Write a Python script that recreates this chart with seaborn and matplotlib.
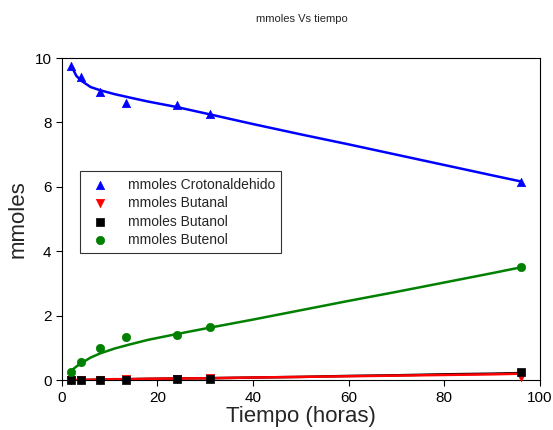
import numpy as np
import pandas as pd
import matplotlib
matplotlib.use("Agg")
import matplotlib.pyplot as plt
import seaborn as sns

# measured points
tiempo = [2, 4, 8, 13.5, 24, 31, 96]
crotonaldehido = [9.75, 9.42, 8.95, 8.6, 8.55, 8.25, 6.15]
butanal = [0.0, 0.0, 0.0, 0.02, 0.03, 0.06, 0.1]
butanol = [0.0, 0.0, 0.0, 0.01, 0.02, 0.03, 0.25]
butenol = [0.25, 0.55, 1.0, 1.35, 1.4, 1.65, 3.5]

# fitted curves
fit_x = [2, 3, 4, 6, 8, 11, 14, 18, 24, 31, 40, 50, 60, 70, 80, 90, 96]
fit_croton = [9.75, 9.45, 9.3, 9.1, 9.0, 8.88, 8.78, 8.65, 8.48, 8.25,
              7.95, 7.63, 7.32, 7.0, 6.68, 6.36, 6.17]
fit_butanal = [0.0, 0.0, 0.01, 0.01, 0.02, 0.03, 0.03, 0.04, 0.05, 0.06,
               0.08, 0.1, 0.12, 0.14, 0.16, 0.18, 0.2]
fit_butanol = [0.0, 0.0, 0.0, 0.01, 0.01, 0.02, 0.03, 0.04, 0.05, 0.06,
               0.08, 0.1, 0.13, 0.15, 0.18, 0.2, 0.22]
fit_butenol = [0.3, 0.42, 0.52, 0.7, 0.83, 0.98, 1.1, 1.25, 1.43, 1.63,
               1.88, 2.17, 2.46, 2.74, 3.03, 3.32, 3.5]

sns.set_style("white")
plt.rcParams['font.family'] = ['Liberation Sans', 'DejaVu Sans']

fig = plt.figure(figsize=(5.53, 4.30), dpi=100)
ax = fig.add_axes([0.112, 0.116, 0.864, 0.749])

series = [
    ("mmoles Crotonaldehido", crotonaldehido, fit_croton, "#0000ff", "^"),
    ("mmoles Butanal", butanal, fit_butanal, "#ff0000", "v"),
    ("mmoles Butanol", butanol, fit_butanol, "#000000", "s"),
    ("mmoles Butenol", butenol, fit_butenol, "#008000", "o"),
]

# lines: black under red, like the original
line_z = {"#0000ff": 2, "#ff0000": 3, "#000000": 2.5, "#008000": 2}
for name, vals, fit, color, marker in series:
    sns.lineplot(x=fit_x, y=fit, ax=ax, color=color, linewidth=1.8,
                 legend=False, zorder=line_z[color])
for name, vals, fit, color, marker in series:
    sns.scatterplot(x=tiempo, y=vals, ax=ax, color=color, marker=marker,
                    s=36, edgecolor=color, linewidth=0.5, label=name,
                    clip_on=False, zorder=5)

ax.set_xlim(0, 100)
ax.set_ylim(0, 10)
ax.set_xticks([0, 20, 40, 60, 80, 100])
ax.set_yticks([0, 2, 4, 6, 8, 10])
ax.tick_params(axis='both', direction='out', length=4, width=0.8,
               labelsize=11, colors='black', bottom=True, left=True)
for sp in ax.spines.values():
    sp.set_color('black')
    sp.set_linewidth(0.8)

ax.set_xlabel("Tiempo (horas)", fontsize=16, labelpad=1)
ax.set_ylabel("mmoles", fontsize=16, labelpad=4)
fig.text(0.545, 0.955, "mmoles Vs tiempo", ha='center', va='center', fontsize=8)

leg = ax.legend(loc='upper left', bbox_to_anchor=(0.037, 0.648), fontsize=10,
                frameon=True, fancybox=False, edgecolor='black',
                borderpad=0.45, labelspacing=0.32, handletextpad=1.0,
                borderaxespad=0)
leg.get_frame().set_linewidth(0.8)

fig.savefig("out.png", dpi=100)
